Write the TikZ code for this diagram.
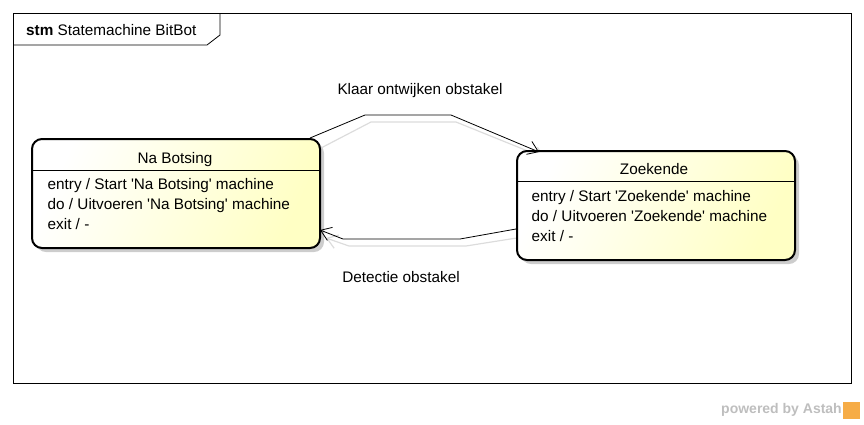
\documentclass[tikz,border=0pt]{standalone}
\usepackage{fontspec}
\setmainfont{Liberation Sans}
\usetikzlibrary{arrows.meta,calc,shadows}
\definecolor{stateyellow}{RGB}{255,255,196}
\definecolor{shadowgray}{RGB}{205,205,205}
\definecolor{lineshadow}{RGB}{220,220,220}
\definecolor{astahgray}{RGB}{190,190,190}
\definecolor{astahorange}{RGB}{246,172,70}
\newcommand{\sq}{\textquotesingle}
\begin{document}
\begin{tikzpicture}[x=1pt,y=-1pt,
  txt/.style={inner sep=0pt, text height=11pt, text depth=3pt, font=\fontsize{15.3}{20}\selectfont},
  bodyline/.style={txt, anchor=west},
  statebox/.style={draw, line width=2pt, rounded corners=10pt, inner sep=0pt,
    left color=white, right color=stateyellow, shading angle=65,
    drop shadow={shadow xshift=4pt, shadow yshift=-4pt, fill=shadowgray, opacity=1}},
  trans/.style={draw, line width=0.8pt, -{Straight Barb[length=10pt,width=14pt,line width=0.8pt]}},
  transshadow/.style={draw=lineshadow, line width=1.2pt, -{Straight Barb[length=10pt,width=14pt,line width=1.2pt]}}
]
\useasboundingbox (0,0) rectangle (864,424);
% frame
\node[draw, line width=0.8pt, anchor=north west, inner sep=0pt, minimum width=838pt, minimum height=370pt] (frame) at (13,13) {};
\draw[line width=0.8pt] (frame.north west) ++(0,32) coordinate (tabbl) -- ++(194,0) coordinate (tabc) -- ++(13,-10) coordinate (tabr) -- (tabr |- frame.north);
\node[txt, anchor=west] (title) at (26,31) {\textbf{stm} Statemachine BitBot};

% transition shadows
\draw[transshadow] (321,148) -- (371,122) -- (456,122) -- (545,158);
\draw[transshadow] (523,237) -- (466,246) -- (349,246) -- (326,238);

% states
\node[statebox, minimum width=288pt, minimum height=109pt] (nb) at (176,193.5) {};
\draw[line width=1pt] ($(nb.north west)+(0,32)$) -- ($(nb.north east)+(0,32)$);
\node[txt] (nbt) at (175,159) {Na Botsing};
\node[bodyline] (nb1) at (47.5,185) {entry / Start \sq Na Botsing\sq\ machine};
\node[bodyline] (nb2) at (47.5,205) {do / Uitvoeren \sq Na Botsing\sq\ machine};
\node[bodyline] (nb3) at (47.5,225) {exit / -};

\node[statebox, minimum width=278pt, minimum height=109pt] (zk) at (656,205.5) {};
\draw[line width=1pt] ($(zk.north west)+(0,31)$) -- ($(zk.north east)+(0,31)$);
\node[txt] (zkt) at (654,170) {Zoekende};
\node[bodyline] (zk1) at (531.5,197) {entry / Start \sq Zoekende\sq\ machine};
\node[bodyline] (zk2) at (531.5,217) {do / Uitvoeren \sq Zoekende\sq\ machine};
\node[bodyline] (zk3) at (531.5,237) {exit / -};

% transitions
\coordinate (t1a) at (365,115);
\coordinate (t1b) at (451,115);
\draw[trans] ($(nb.north east)+(-11,0)$) -- (t1a) -- (t1b) -- ($(zk.north west)+(23,2)$);
\node[txt] (l1) at (420,90) {Klaar ontwijken obstakel};

\coordinate (t2a) at (460,239);
\coordinate (t2b) at (343,239);
\draw[trans] ($(zk.north west)+(0,79)$) -- (t2a) -- (t2b) -- ($(nb.north east)+(-1,92)$);
\node[txt] (l2) at (401,278) {Detectie obstakel};

% watermark
\node[anchor=east, inner sep=0pt, text=astahgray, font=\fontsize{14}{16}\selectfont\bfseries] (pw) at (842,410) {powered by Astah};
\fill[astahorange] (843,402) rectangle (860,419);
\end{tikzpicture}
\end{document}
